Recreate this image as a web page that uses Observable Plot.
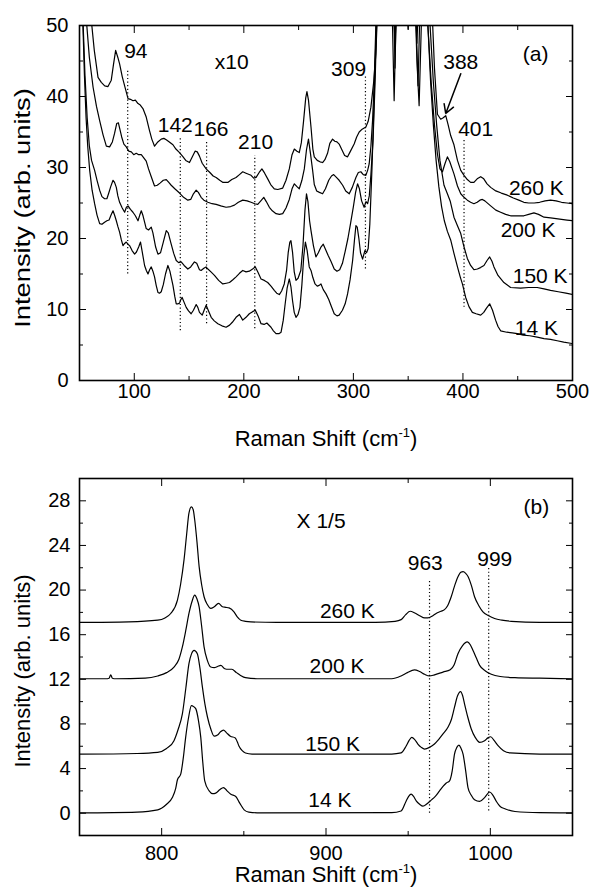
<!DOCTYPE html>
<html><head><meta charset="utf-8">
<script src="https://cdn.jsdelivr.net/npm/d3@7"></script>
<script src="https://cdn.jsdelivr.net/npm/@observablehq/plot@0.6"></script>
<style>
body{margin:0;background:#fff;}
#wrap{position:relative;width:592px;height:889px;font-family:"Liberation Sans",Arial,sans-serif;color:#000;overflow:hidden;}
.yt,.xt{position:absolute;font-size:22px;white-space:nowrap;line-height:1;}
.yt{transform:translate(-50%,-50%) rotate(-90deg);}
#yta{transform:translate(-50%,-50%) rotate(-90deg) scaleX(1.24);}
.xt{transform:translate(-50%,-50%);}
.xt sup{font-size:13px;position:relative;top:-2px;vertical-align:top;}
</style></head><body>
<div id="wrap">
  <div id="pa" style="position:absolute;left:0;top:0"></div>
  <div id="pb" style="position:absolute;left:0;top:460px"></div>
  <div class="yt" id="yta" style="left:23px;top:208px">Intensity (arb. units)</div>
  <div class="xt" style="left:326px;top:439px">Raman Shift (cm<sup>-1</sup>)</div>
  <div class="yt" style="left:23px;top:671px">Intensity (arb. units)</div>
  <div class="xt" style="left:326px;top:875px">Raman Shift (cm<sup>-1</sup>)</div>
</div>
<script>
// ---------- Panel (a) data : Raman shift (cm-1), intensity (x10) ----------
const a260 = [[58.5,60],[60.8,50.7],[63.5,46.5],[66.9,42.7],[69.9,42.0],[73,41.5],[76,41.4],[79,42.3],[81,44.5],[83,46.5],[85,45.5],[86.6,44.6],[89,42.8],[91.2,41.5],[94.3,39.7],[96.5,39.6],[98.8,39.4],[101,39.5],[103.4,39.0],[105.5,38.8],[107.9,38.3],[110.9,37.1],[113.9,35.2],[116,34.0],[118.5,33.0],[121.5,33.6],[124.6,34.0],[127,34.1],[129.2,33.9],[132,33.6],[135.3,33.2],[138,32.6],[141.3,32.1],[144,31.6],[147,31.0],[150.4,30.7],[153,31.5],[155.5,32.3],[157.5,32.2],[159.5,31.6],[162,30.6],[165.6,29.8],[169,29.3],[172,28.8],[174.7,28.6],[178,28.2],[181,27.9],[185.4,27.9],[189,28.3],[192.9,28.6],[196,29.0],[199,29.4],[202,29.2],[206.6,28.9],[209,28.5],[211.2,28.6],[214,29.3],[216.5,29.8],[219,29.2],[221.8,28.4],[224.5,27.6],[227.8,27.0],[231,26.9],[235.5,27.1],[238.5,28.2],[241.5,29.8],[244,31.8],[246.1,32.6],[248.5,32.3],[250.6,32.1],[252.5,33.5],[254.5,36.5],[256.5,39.8],[257.6,40.7],[259,39.5],[261.3,35.7],[263,32.6],[264.3,31.5],[267,31.0],[269.5,30.8],[271.9,30.7],[274,31.1],[276.4,32.0],[278.5,33.4],[281,34.0],[283,33.7],[285,33.6],[287,33.3],[289.5,32.5],[292,31.7],[294.7,31.5],[297,32.2],[300.7,33.3],[303,34.3],[305.3,35.0],[308,35.4],[311.4,35.7],[313.5,36.5],[316,38.5],[318.5,42],[320.5,46],[322,52],[324,62],[335,65],[345,70],[350,49.5],[353,70],[365,65],[370,55],[372.2,50.7],[374,44],[376.7,37.5],[379.7,36.8],[382,37.0],[384.3,37.3],[386.5,36],[388.8,34.5],[391.8,33.2],[395,31.0],[398,29.6],[401,28.9],[404,28.3],[407,27.9],[410,27.9],[413,28.4],[416.2,28.7],[419,28.4],[422,27.7],[425.3,27.2],[430,26.7],[435,26.4],[440.5,26.1],[446,25.7],[451,25.4],[455.6,25.1],[460,25.0],[465,25.0],[470,25.1],[475,25.3],[480,25.4],[485,25.3],[490,25.1],[495,25.0],[500,24.9]];
const a200 = [[53.5,57],[56.3,50.7],[59,45.5],[62.4,41.3],[65.5,38.6],[68.4,36.6],[71.5,34.6],[74.5,33.0],[77.5,32.9],[80,33.6],[82,34.8],[84,36.2],[85.5,36.3],[87,35.3],[88.5,34.3],[90.5,33.3],[92.7,32.9],[95,32.3],[97.3,32.2],[99.5,31.8],[101.8,32.0],[104,31.8],[106.4,31.8],[108.5,31.4],[110.9,30.9],[113,29.8],[115.5,28.7],[118.5,27.4],[121,27.5],[123.5,27.8],[126.5,28.2],[129.2,28.3],[131.5,27.9],[133.7,27.5],[137,27.0],[141.3,26.4],[145,25.8],[148.9,25.4],[151.5,25.5],[154,26.3],[156.5,26.8],[158.5,26.5],[161,25.8],[163.5,25.4],[167.2,25.1],[171,24.9],[174.7,24.8],[179,24.6],[183.8,24.4],[188,24.5],[191.4,24.7],[195,25.1],[199,25.4],[203,25.3],[206.6,25.1],[210,24.9],[212.7,24.8],[215.5,25.3],[218.2,25.8],[220.5,25.2],[223.3,24.4],[226,23.9],[229.4,23.5],[232.5,23.4],[235.5,23.5],[238.5,24.3],[241.5,25.5],[244,27.0],[246.1,27.7],[248.5,27.3],[250.6,27.0],[253,28.2],[255.2,29.8],[257.2,32.5],[259,34.0],[260.8,32.0],[262.8,29.6],[264.3,27.6],[266.5,26.7],[269,26.5],[271.9,26.3],[274.5,27.0],[277.5,28.2],[280,28.8],[282,29.0],[284.5,28.6],[287,28.2],[290.2,27.5],[293,26.7],[296.2,26.3],[299,27.2],[302.3,28.6],[304.5,29.3],[306.8,29.4],[309,29.0],[311.4,28.9],[313,29.6],[314.4,30.5],[316,33],[317.5,36.6],[319,42],[320.5,50],[322,60],[330,70],[336,55],[338,47.5],[340,55],[345,70],[355,62],[358,47.5],[361,60],[364,70],[366,60],[368,50],[371,42],[374,36],[376.7,31.9],[379,29.8],[381.3,29.4],[383.5,30.5],[385.8,31.5],[388,30.8],[391.8,29.1],[395,27.4],[398,26.3],[401,25.8],[404,25.4],[407,25.1],[410,24.9],[413,25.1],[415.5,25.4],[417.7,25.5],[420,25.3],[425.3,24.6],[430,24.0],[434.4,23.7],[439,23.4],[443.5,23.2],[450,23.2],[455.6,23.2],[460,23.4],[464.8,23.6],[469,23.4],[474,23.0],[480,22.9],[485,22.8],[490,22.7],[495,22.6],[500,22.5]];
const a150 = [[52.5,58],[53.2,50.7],[55,43],[57,37],[59,33],[61,31],[63.8,29.6],[66,28.2],[68.4,26.8],[70.5,25.9],[72.9,25.6],[75,25.6],[76.5,26.3],[78.5,27.3],[80.6,28.2],[82,27.9],[83.6,27.2],[85,26.0],[86.6,25.1],[89,24.3],[91.2,23.7],[92.8,24.4],[94.3,24.6],[96.5,24.1],[98.8,23.7],[101,23.2],[103.4,22.5],[105,23.3],[106.4,23.9],[108,23.2],[110.9,21.4],[113,21.2],[115.5,21.6],[117,20.8],[119.5,18.8],[121.6,17.8],[124,18.0],[126.5,19.5],[129.2,21.1],[131,20.8],[133.7,19.2],[136,17.9],[138.3,16.9],[140.5,16.6],[142.8,16.7],[145.5,16.2],[148.9,15.7],[151.5,16.0],[154.9,16.7],[157,16.5],[159.5,15.6],[161,15.5],[163.5,15.8],[165.5,16.0],[167.2,15.7],[170,15.3],[173.2,14.8],[177,14.1],[180.8,13.6],[184,13.7],[186.9,13.8],[190,14.2],[192.9,14.6],[196,15.1],[199,15.5],[202,15.3],[205,15.4],[208,15.7],[210.5,16.0],[213,15.2],[215.7,14.3],[218.7,14.1],[221.8,13.8],[224.8,13.3],[227.8,12.7],[230,12.3],[232.4,12.1],[234.5,12.6],[236.9,13.6],[239,15.5],[240.5,18],[242,19.5],[243,19.7],[244.5,18],[246,15.3],[247.6,14.1],[249.5,14.4],[252,15.5],[254,19],[255.8,24],[257.2,26.3],[258.5,25.2],[260,22.5],[261.3,21.1],[263.5,19.0],[265.8,17.4],[268,18.0],[270.4,18.8],[272.5,19.2],[274.5,18.5],[277,17.6],[279.5,16.8],[282.5,15.7],[285,15.4],[287.5,15.6],[290,16.5],[292.5,18.2],[295,20.0],[297.5,22.2],[300,24.5],[302,26.5],[303.8,27.7],[305.5,27.0],[307.5,25.3],[309.8,24.4],[311.5,25.2],[313,24.9],[314.5,26.0],[316,29],[318,34],[320,43],[321.5,52],[323,62],[330,72],[336,60],[338,44],[340,60],[345,72],[355,62],[359,41.5],[362,60],[365,70],[368,58],[370,50],[373,42],[376,36],[379,31],[382.7,27.5],[385.8,26.3],[388.5,25.2],[391.8,23.0],[395,21.8],[398,20.7],[401,18.8],[404,17.2],[407,16.2],[410,15.6],[413.2,15.7],[416,15.9],[419.2,16.2],[422,16.9],[424.4,17.4],[426.5,16.8],[428.3,16.0],[432,14.8],[437.4,13.8],[443.5,13.1],[452.6,13.0],[460,13.1],[467.8,13.1],[474,12.9],[480,12.7],[487,12.5],[494,12.3],[500,12.1]];
const a14 = [[52,58],[53,50.7],[54.5,43],[56,37],[57.5,33],[59.3,29.6],[61.5,26.8],[63.8,24.9],[66,23.3],[68.4,22.1],[70.5,22.0],[72.9,22.3],[75,22.5],[77,22.6],[78.8,23.3],[80.6,23.9],[82.2,23.2],[83.6,22.5],[85,21.7],[86.6,20.9],[88.2,19.8],[89.7,19.0],[91.2,19.3],[92.7,19.5],[94.2,19.2],[95.7,19.0],[98,18.3],[100.3,17.8],[102,18.1],[104,18.8],[105.7,19.5],[107.5,17.9],[109.4,16.2],[111,15.5],[112.5,15.0],[114,15.6],[115.5,16.0],[117,15.4],[118.5,14.6],[120,13.4],[121.6,12.4],[123,12.3],[124.6,12.5],[126.5,13.5],[128.5,15.0],[130.7,16.2],[132.5,15.4],[135.3,13.4],[137,11.8],[138.3,10.8],[140,10.8],[141.3,10.9],[142.5,11.4],[143.7,11.7],[145.5,11.0],[147.4,10.3],[149.5,9.8],[151.9,9.4],[154,9.9],[156.5,10.7],[158,10.3],[159.5,9.6],[162,9.2],[164,10.0],[165.6,10.6],[167.5,9.9],[170.2,8.9],[173,8.4],[176.3,8.0],[180,7.7],[183.8,7.5],[187,7.8],[189.5,8.2],[192.9,8.9],[196,9.3],[199,8.5],[202,8.9],[205,9.4],[208,9.7],[210.5,9.9],[213,9.1],[215.7,8.0],[218.5,7.9],[221,8.1],[224.8,7.5],[227,7.0],[229.4,6.6],[232,6.6],[234,6.8],[236,8.5],[237.5,10.5],[239.5,13.0],[241.5,14.3],[243,13.2],[244.5,11.2],[246,9.6],[247.6,8.9],[249.5,9.3],[251.2,10.3],[253,13.5],[254.7,17.5],[256.2,19.5],[257.8,18.3],[259.7,16.0],[261.3,15.5],[263,14.5],[265,13.6],[267,13.3],[268.8,13.4],[270.4,13.6],[272.5,12.8],[275,12.2],[277.5,11.4],[280,10.4],[282.5,9.4],[285,9.1],[287,9.2],[290,9.9],[292.5,10.8],[294.7,12.2],[297,14.2],[299.3,16.9],[301,19.8],[302.3,21.8],[303.5,21.6],[305,20.0],[306.5,18.0],[308.4,17.1],[310.5,18.3],[312,18.0],[313.5,18.6],[315,22],[317,30],[319,40],[320.5,48],[322,58],[330,70],[335,55],[337.2,39.4],[339.5,55],[345,70],[355,60],[358,45],[360,38.7],[362,50],[365,70],[366,60],[368,50],[370.5,42],[373,36],[375.5,31],[378,27.3],[380.5,24.5],[383,22.5],[385.8,21.0],[388.8,19.8],[391.8,17.9],[395,16.0],[397.5,14.6],[399.5,13.6],[402.5,11.7],[405.5,10.4],[408.6,9.6],[412,9.4],[416.2,9.2],[419,9.6],[421.5,10.2],[424.4,10.8],[427,9.9],[429.8,8.5],[432,7.6],[434.4,7.0],[440,6.8],[445,6.7],[449.6,6.6],[455,6.4],[461,6.3],[467.8,6.1],[474,5.9],[480,5.8],[486,5.6],[492,5.4],[500,5.2]];

const peakLineA = [{x:94,y1:15.0,y2:43.7},{x:142,y1:7.0,y2:34.3},{x:166,y1:8.0,y2:33.8},{x:210,y1:7.3,y2:31.7},{x:311,y1:15.7,y2:43.0},{x:401,y1:10.3,y2:33.8}];
const labelsA = [
  {x:101.4,y:46.4,t:"94"},{x:137.4,y:36.0,t:"142"},{x:170,y:35.4,t:"166"},{x:210.7,y:33.6,t:"210"},
  {x:295.6,y:43.8,t:"309"},{x:398,y:44.8,t:"388"},{x:411.6,y:35.4,t:"401"},
  {x:189,y:44.8,t:"x10"},{x:466.3,y:45.9,t:"(a)"},
  {x:467,y:27.1,t:"260 K"},{x:459.5,y:21.2,t:"200 K"},{x:470.5,y:14.7,t:"150 K"},{x:467,y:7.4,t:"14 K"}
];
const arrowA = [{x1:398,y1:43.2,x2:384.3,y2:37.6}];

const xTicksA = [100,200,300,400,500], xMinorA = [150,250,350,450];
const yTicksA = [0,10,20,30,40,50], yMinorA = [5,15,25,35,45];

// ---------- Panel (b) data : intensity (x 1/5) ----------
const b260 = [[750,17.1],[780,17.15],[797.6,17.3],[802,17.5],[805.5,17.9],[809.6,19.1],[811.5,20.5],[813.6,22.7],[815.2,25.0],[816.6,26.9],[818.1,27.45],[819.2,27.2],[820.1,26.3],[821.5,24.3],[822.8,22.1],[824.3,20.5],[825.8,19.4],[827.8,18.7],[829.9,18.35],[832,18.5],[834.6,18.8],[837,18.5],[839,18.45],[841,18.4],[844,18.05],[846,17.6],[848.2,17.3],[851,17.2],[854.3,17.15],[870,17.1],[900,17.1],[930,17.1],[942,17.2],[945.7,17.35],[948.5,17.8],[951.2,18.1],[954,17.95],[957,17.7],[960,17.5],[962,17.5],[965,17.7],[967,17.9],[970,18.1],[972.1,18.25],[974,18.6],[976.2,19.4],[978.3,20.4],[980.3,21.2],[982,21.6],[983.4,21.65],[985,21.5],[986.5,21.2],[988.5,20.4],[990.4,19.4],[993,18.6],[995.5,18.05],[999,17.7],[1002.6,17.45],[1007,17.3],[1012.8,17.2],[1030,17.1],[1050,17.1]];
const b200 = [[750,12.05],[766,12.05],[768,12.1],[769,12.4],[770,12.1],[772,12.05],[790,12.1],[797.6,12.3],[803,12.6],[807.5,13.1],[810.5,13.8],[812.6,14.9],[814.7,16.4],[816.6,17.9],[818.5,19.0],[820.1,19.55],[821.5,19.2],[822.8,18.5],[824.3,16.8],[825.8,14.9],[827.8,13.7],[829.9,13.1],[832,13.05],[834,13.15],[836,13.25],[838.4,12.95],[840.5,12.9],[842.7,12.9],[845.5,12.6],[848,12.35],[851,12.15],[860,12.05],[940,12.05],[945.7,12.3],[949.5,12.6],[953.8,12.85],[957,12.7],[960,12.45],[963,12.3],[966,12.4],[971.2,12.65],[975.6,12.85],[978,13.3],[980.3,14.3],[983,15.0],[986,15.35],[987.8,15.1],[989.4,14.6],[991.5,13.9],[993.5,13.25],[997,12.75],[1000.6,12.45],[1006,12.25],[1015,12.15],[1030,12.1],[1050,12.05]];
const b150 = [[750,5.29],[785,5.35],[797.6,5.45],[803,5.8],[807.5,6.5],[810,7.5],[812.6,8.9],[814.7,11.2],[816.6,13.4],[818.2,14.3],[819.7,14.6],[821.7,14.3],[823.3,13.0],[824.8,11.3],[826.3,9.8],[827.9,8.6],[830,7.5],[831.9,6.9],[834,7.0],[835.8,7.3],[837.6,7.45],[839.5,7.2],[841.8,6.9],[844.8,6.75],[846,6.4],[847.1,6.0],[849,5.6],[851,5.4],[855,5.3],[940,5.3],[945.7,5.4],[948.7,6.0],[950.5,6.5],[952.2,6.8],[954,6.6],[955.9,6.2],[958,5.9],[960,5.75],[963,5.9],[966,6.2],[968.5,6.6],[971.2,7.1],[974.2,7.7],[976.3,8.4],[978.2,9.5],[980,10.5],[981.9,10.9],[983.2,10.5],[984.3,9.8],[986.3,8.6],[988.4,7.55],[990.8,6.8],[993.5,6.35],[996.5,6.5],[998.5,6.75],[1000.2,6.85],[1002.4,6.5],[1004.7,6.05],[1008,5.6],[1012,5.4],[1030,5.3],[1050,5.3]];
const b14 = [[750,0.03],[785,0.1],[797.6,0.3],[803,0.8],[806.5,1.4],[808.5,2.2],[809.6,3.0],[811.6,3.5],[813.2,5.0],[814.6,6.8],[816.4,8.6],[818.1,9.65],[819.5,9.55],[820.8,9.35],[822.4,8.3],[823.8,6.8],[825,4.6],[826.2,2.9],[828.9,2.0],[831,1.75],[832.9,1.8],[835.3,2.1],[837.6,2.3],[839.8,2.0],[842.1,1.7],[845.1,1.5],[847.5,0.9],[850.2,0.3],[853,0.1],[860,0.03],[940,0.05],[945.7,0.2],[948.8,1.1],[950.3,1.5],[951.8,1.7],[953.3,1.5],[954.9,1.1],[957,0.8],[959,0.63],[961.5,0.85],[964,1.17],[966.5,1.5],[969.1,2.0],[971.2,2.4],[973.2,2.7],[975.2,2.9],[976.8,3.8],[978.2,5.3],[979.6,5.9],[980.9,6.1],[982.2,5.8],[983.4,5.3],[985,3.8],[986.4,2.3],[988.4,1.6],[990.4,1.2],[993.5,1.05],[996.5,1.4],[999.6,1.9],[1001.6,1.6],[1003.7,1.05],[1006,0.6],[1008.8,0.4],[1015,0.15],[1030,0.05],[1050,0.03]];

const peakLineB = [{x:963,y1:0,y2:20.9},{x:999,y1:0.2,y2:22.0}];
const labelsB = [
  {x:897,y:26.15,t:"X 1/5"},{x:1028,y:27.45,t:"(b)"},{x:960.4,y:22.4,t:"963"},{x:1002.7,y:22.8,t:"999"},
  {x:913,y:18.1,t:"260 K"},{x:906.7,y:13.2,t:"200 K"},{x:904,y:6.2,t:"150 K"},{x:902.4,y:1.2,t:"14 K"}
];
const xTicksB = [800,900,1000], xMinorB = [850,950];
const yTicksB = [0,4,8,12,16,20,24,28], yMinorB = [2,6,10,14,18,22,26];

// ---------- drawing ----------
const FONT = '"Liberation Sans", Arial, sans-serif';
function boxAxes(xMaj, xMin, yMaj, yMin, xPad, yPad) {
  const f = {fontSize: 20, label: null};
  const blank = () => "";
  const plain = d => String(d);
  return [
    Plot.axisX(xMaj, {...f, anchor: "bottom", tickSize: -7, tickPadding: xPad, tickFormat: plain}),
    Plot.axisX(xMin, {...f, anchor: "bottom", tickSize: -4, tickFormat: blank}),
    Plot.axisX(xMaj, {...f, anchor: "top", tickSize: -7, tickFormat: blank}),
    Plot.axisX(xMin, {...f, anchor: "top", tickSize: -4, tickFormat: blank}),
    Plot.axisY(yMaj, {...f, anchor: "left", tickSize: -7, tickPadding: yPad, tickFormat: plain}),
    Plot.axisY(yMin, {...f, anchor: "left", tickSize: -4, tickFormat: blank}),
    Plot.axisY(yMaj, {...f, anchor: "right", tickSize: -7, tickFormat: blank}),
    Plot.axisY(yMin, {...f, anchor: "right", tickSize: -4, tickFormat: blank})
  ];
}
const lineOpts = {x: d => d[0], y: d => d[1], stroke: "black", strokeWidth: 1.2, clip: true};

const plotA = Plot.plot({
  width: 592, height: 460,
  marginLeft: 79, marginRight: 20, marginTop: 25, marginBottom: 80,
  style: {fontFamily: FONT, fontSize: "20px", background: "white", color: "black"},
  x: {domain: [50, 500], label: null},
  y: {domain: [0, 50], label: null},
  marks: [
    ...boxAxes(xTicksA, xMinorA, yTicksA, yMinorA, 10, 18),
    Plot.ruleX(peakLineA, {x: "x", y1: "y1", y2: "y2", stroke: "black", strokeWidth: 1.2, strokeDasharray: "1.2,2.4"}),
    Plot.line(a260, lineOpts),
    Plot.line(a200, lineOpts),
    Plot.line(a150, lineOpts),
    Plot.line(a14, lineOpts),
    Plot.arrow(arrowA, {x1: "x1", y1: "y1", x2: "x2", y2: "y2", stroke: "black", strokeWidth: 1.5, headLength: 10}),
    Plot.text(labelsA, {x: "x", y: "y", text: "t", fontSize: 21, fill: "black"}),
    Plot.frame({stroke: "black", strokeWidth: 1.6})
  ]
});
document.getElementById("pa").append(plotA);

const lineOptsB = {...lineOpts, curve: "monotone-x"};
const plotB = Plot.plot({
  width: 592, height: 429,
  marginLeft: 79, marginRight: 20, marginTop: 18, marginBottom: 54,
  style: {fontFamily: FONT, fontSize: "20px", background: "white", color: "black"},
  x: {domain: [750, 1050], label: null},
  y: {domain: [-2, 30], label: null},
  marks: [
    ...boxAxes(xTicksB, xMinorB, yTicksB, yMinorB, 17, 16),
    Plot.ruleX(peakLineB, {x: "x", y1: "y1", y2: "y2", stroke: "black", strokeWidth: 1.2, strokeDasharray: "1.2,2.4"}),
    Plot.line(b260, lineOptsB),
    Plot.line(b200, lineOptsB),
    Plot.line(b150, lineOptsB),
    Plot.line(b14, lineOptsB),
    Plot.text(labelsB, {x: "x", y: "y", text: "t", fontSize: 21, fill: "black"}),
    Plot.frame({stroke: "black", strokeWidth: 1.6})
  ]
});
document.getElementById("pb").append(plotB);
</script>
</body></html>
